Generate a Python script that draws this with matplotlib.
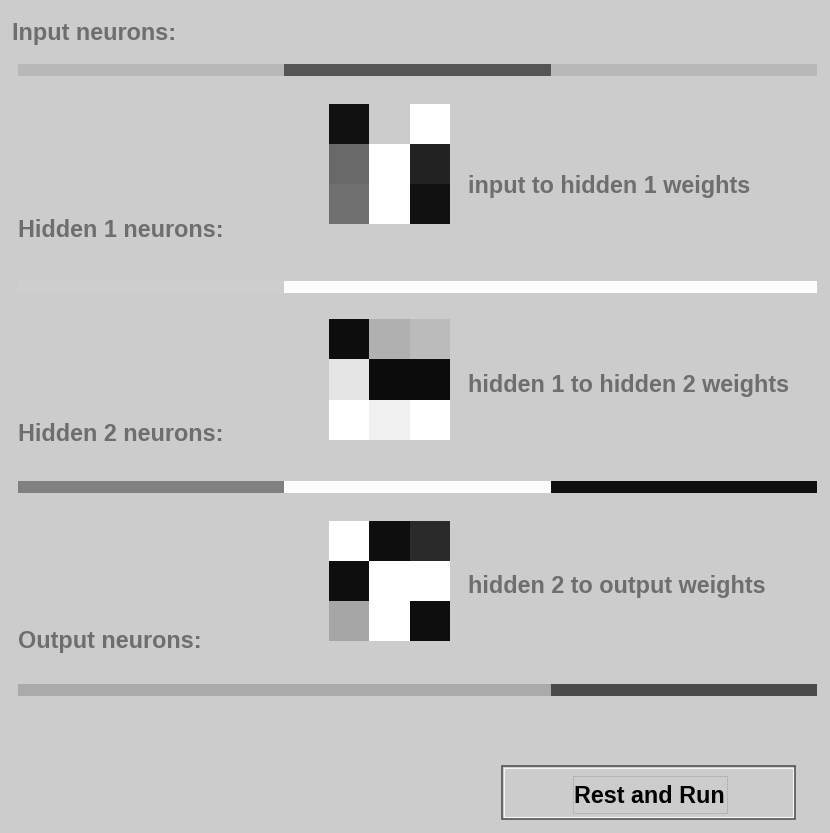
import numpy as np
import matplotlib.pyplot as plt
from matplotlib.patches import Rectangle

# neuron activations as grey levels (0 = black, 255 = white)
input_levels = [184, 85, 184]
hidden1_levels = [206, 252, 252]
hidden2_levels = [128, 252, 15]
output_levels = [170, 170, 74]

# weight matrices as grey levels
w_in_h1 = np.array([[17, 204, 255],
                    [106, 255, 34],
                    [112, 255, 17]])
w_h1_h2 = np.array([[13, 176, 187],
                    [229, 12, 12],
                    [255, 240, 255]])
w_h2_out = np.array([[255, 14, 42],
                     [14, 255, 255],
                     [166, 255, 14]])

layer_labels = ["Input neurons:", "Hidden 1 neurons:", "Hidden 2 neurons:", "Output neurons:"]
weight_labels = ["input to hidden 1 weights", "hidden 1 to hidden 2 weights",
                 "hidden 2 to output weights"]
button_text = "Rest and Run"

bg = '#cccccc'
txt_col = '#6e6e6e'
font = ['Liberation Sans', 'DejaVu Sans']
fs = 16.8

fig = plt.figure(figsize=(8.3, 8.33), dpi=100, facecolor=bg)
ax = fig.add_axes([0, 0, 1, 1])
ax.axis('off')
ax.set_facecolor(bg)

bar_x0, bar_x1, bar_h = 18, 817, 12
bar_y = [70, 287, 487, 690]
label_pos = [(12, 40), (18, 237), (18, 441), (18, 648)]
layers = [input_levels, hidden1_levels, hidden2_levels, output_levels]

for lab, (lx, ly) in zip(layer_labels, label_pos):
    ax.text(lx, ly, lab, color=txt_col, fontsize=fs, fontweight='bold',
            family=font, va='baseline', ha='left')

for levels, y in zip(layers, bar_y):
    n = len(levels)
    w = (bar_x1 - bar_x0) / n
    lefts = bar_x0 + w * np.arange(n)
    cols = [str(v / 255) for v in levels]
    ax.barh(y, w, left=lefts, height=bar_h, color=cols, edgecolor='none')

mat_x0, cell = 329, 40
mat_y0 = [104, 320, 521]
wlab_y = [193, 392, 593]
for m, y0, lab, ly in zip([w_in_h1, w_h1_h2, w_h2_out], mat_y0, weight_labels, wlab_y):
    ax.imshow(m, cmap='gray', vmin=0, vmax=255, interpolation='nearest',
              extent=(mat_x0, mat_x0 + cell * m.shape[1], y0 + cell * m.shape[0], y0))
    ax.text(468, ly, lab, color=txt_col, fontsize=fs, fontweight='bold',
            family=font, va='baseline', ha='left')

ax.set_xlim(0, 830)
ax.set_ylim(833, 0)
ax.set_aspect('auto')

# button
ax.add_patch(Rectangle((502, 766), 293, 53, facecolor=bg, edgecolor='#555555', lw=1.2))
ax.add_patch(Rectangle((504, 768), 289, 49, facecolor='none', edgecolor='#f4f4f4', lw=0.8))
ax.add_patch(Rectangle((573, 776), 154, 37, facecolor='none', edgecolor='#999999',
                       lw=0.6, ls=(0, (1, 1))))
ax.text(649, 803, button_text, color='black', fontsize=fs, fontweight='bold',
        family=font, va='baseline', ha='center')

fig.savefig('out.png', dpi=100, facecolor=bg)
